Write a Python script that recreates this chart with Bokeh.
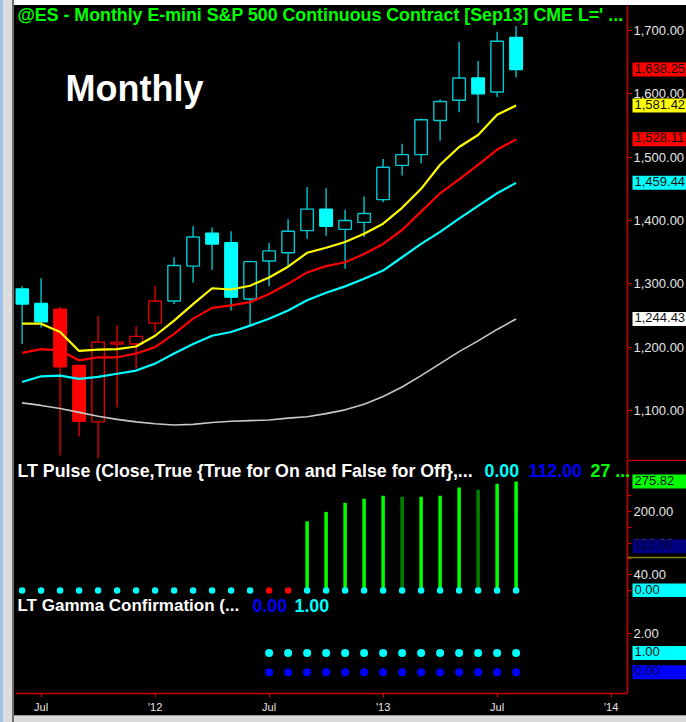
from bokeh.plotting import figure
from bokeh.models import (Range1d, FixedTicker, NumeralTickFormatter, Label, Div,
                          ColumnDataSource, BoxAnnotation)
from bokeh.layouts import row, column
from bokeh.embed import file_html
from bokeh.resources import INLINE

FONT = "Liberation Sans"

# ---------------- data ----------------
months = ["2011-06", "2011-07", "2011-08", "2011-09", "2011-10", "2011-11", "2011-12",
          "2012-01", "2012-02", "2012-03", "2012-04", "2012-05", "2012-06", "2012-07",
          "2012-08", "2012-09", "2012-10", "2012-11", "2012-12", "2013-01", "2013-02",
          "2013-03", "2013-04", "2013-05", "2013-06", "2013-07", "2013-08"]
opens = [1292, 1269, 1260, 1171, 1082, 1205, 1205, 1238, 1273, 1328, 1380, 1365, 1276, 1336,
         1349, 1384, 1418, 1386, 1397, 1433, 1487, 1504, 1558, 1590, 1625, 1603, 1689]
highs = [1296, 1309, 1264, 1172, 1249, 1234, 1233, 1296, 1342, 1391, 1389, 1383, 1337, 1365,
         1402, 1453, 1451, 1417, 1438, 1497, 1521, 1561, 1591, 1682, 1652, 1698, 1707]
lows = [1205, 1231, 1029, 1059, 1025, 1105, 1166, 1224, 1268, 1302, 1322, 1258, 1234, 1296,
        1326, 1371, 1376, 1324, 1374, 1429, 1471, 1490, 1526, 1571, 1554, 1595, 1626]
closes = [1268, 1240, 1169, 1083, 1208, 1208, 1217, 1273, 1329, 1374, 1363, 1279, 1335, 1352,
          1383, 1418, 1391, 1400, 1411, 1484, 1504, 1559, 1588, 1625, 1600, 1683, 1638.25]
candle_side = ["cyan", "cyan", "red", "red", "red", "red", "red", "red"] + ["cyan"] * 19

ma_yellow = [1237, 1237, 1224, 1194, 1196, 1197, 1201, 1218, 1242, 1268, 1293, 1291, 1297, 1310,
             1327, 1349, 1357, 1366, 1379, 1395, 1420, 1450, 1488, 1516, 1535, 1567, 1581.42]
ma_red = [1191, 1197, 1195, 1179, 1184, 1184, 1190, 1200, 1221, 1245, 1262, 1266, 1271, 1284,
          1300, 1318, 1328, 1334, 1347, 1363, 1385, 1414, 1443, 1465, 1488, 1512, 1528.11]
ma_cyan = [1145, 1154, 1155, 1150, 1153, 1158, 1163, 1174, 1190, 1205, 1218, 1224, 1234, 1245,
           1258, 1274, 1286, 1296, 1308, 1321, 1342, 1363, 1382, 1403, 1423, 1443, 1459.44]
ma_white = [1112, 1108, 1103, 1097, 1091, 1086, 1082, 1079, 1077, 1078, 1081, 1083, 1084, 1085,
            1088, 1090, 1095, 1101, 1110, 1122, 1137, 1155, 1174, 1193, 1210, 1228, 1244.43]

pulse = [0] * 15 + [175, 199, 222, 232, 240, 237, 237, 240, 261, 255, 270, 275.82]
pulse_bar_shade = ["bright"] * 20 + ["dark"] + ["bright"] * 3 + ["dark"] + ["bright"] * 2
pulse_dot_state = ["on"] * 13 + ["off", "off"] + ["on"] * 12
pulse_level = 112

gamma_start = 13
gamma_on = [1] * 14
gamma_off = [0] * 14

x_tick_pos = [1, 7, 13, 19, 25, 31]
x_tick_labels = ["Jul", "'12", "Jul", "'13", "Jul", "'14"]
price_ticks = [1100, 1200, 1300, 1400, 1500, 1600, 1700]
pulse_ticks = [40, 120, 200]
pulse_minor = [0, 80, 160, 240]
gamma_ticks = [2]

# ---------------- layout helpers ----------------
x = list(range(len(months)))
X_START, X_END = -0.347, 34.968      # frame spans the whole black area
AXIS_X = 31.863                       # where the price scale sits (red line)
xr = Range1d(X_START, X_END)
W = 672
H1, H2, H3F = 454, 138, 96
SCALE_FONT = 13


def make_fig(height, ys, ye, with_x=False):
    p = figure(width=W, height=height, x_range=xr, y_range=Range1d(ys, ye),
               output_backend="svg", toolbar_location=None,
               x_axis_location="below" if with_x else None, y_axis_location="right",
               min_border_left=1, min_border_right=0, min_border_top=0,
               min_border_bottom=22 if with_x else 0,
               background_fill_color="black", border_fill_color="black",
               outline_line_color=None)
    p.grid.grid_line_color = None
    ax = p.yaxis[0]
    ax.fixed_location = AXIS_X
    ax.axis_line_color = "#C80000"
    ax.axis_line_width = 1.6
    ax.major_tick_line_color = "#E00000"
    ax.minor_tick_line_color = "#E00000"
    ax.major_tick_out = 4
    ax.major_tick_in = 0
    ax.minor_tick_out = 4
    ax.minor_tick_in = 0
    ax.major_label_standoff = 2
    ax.major_label_text_color = "#E6E6E6"
    ax.major_label_text_font = FONT
    ax.major_label_text_font_size = f"{SCALE_FONT}px"
    ax.formatter = NumeralTickFormatter(format="0,0.00")
    return p


def txt(p, xs, ys, text, color, size="17.8px", bold=True):
    p.add_layout(Label(x=xs, y=ys, x_units="screen", y_units="screen", text=text,
                       text_color=color, text_font=FONT, text_font_size=size,
                       text_font_style="bold" if bold else "normal",
                       text_baseline="middle", text_align="left"))


def text_width(s, size=SCALE_FONT):
    return sum((0.556 if ch.isdigit() else 0.278) * size for ch in s)


def val_label(p, value, text, bg, fg="#101010"):
    right_pad = max(0, int(round(685 - 632 - text_width(text))))
    p.add_layout(Label(x=617, y=value, x_units="screen", y_units="data", text=text,
                       text_color=fg, text_font=FONT, text_font_size=f"{SCALE_FONT}px",
                       text_baseline="middle", text_align="left",
                       background_fill_color=bg, padding=(2, right_pad, 1, 4)))


def scale_strip(p, from_bottom, thickness, color):
    p.add_layout(BoxAnnotation(left=AXIS_X, right=X_END,
                               bottom=from_bottom, top=from_bottom + thickness,
                               bottom_units="screen", top_units="screen",
                               fill_color=color, fill_alpha=1.0, line_color=None))


CYAN_LINE, CYAN_FILL = "#00C8D0", "#00FFFF"
RED_LINE, RED_FILL = "#E00000", "#FF0000"

# ---------------- price pane ----------------
p1 = make_fig(H1, 1022.6, 1739.5)
p1.yaxis.ticker = FixedTicker(ticks=price_ticks)
p1.yaxis.minor_tick_line_color = None

line_col = [CYAN_LINE if s == "cyan" else RED_LINE for s in candle_side]
fill_col = []
for s, o, c in zip(candle_side, opens, closes):
    if c < o:
        fill_col.append(CYAN_FILL if s == "cyan" else RED_FILL)
    else:
        fill_col.append("black")
body_line = [fc if fc != "black" else lc for fc, lc in zip(fill_col, line_col)]
src = ColumnDataSource(dict(x=x, o=opens, h=highs, l=lows, c=closes,
                            top=[max(a, b) for a, b in zip(opens, closes)],
                            bot=[min(a, b) for a, b in zip(opens, closes)],
                            lc=line_col, fc=fill_col, bl=body_line))
p1.segment(x0="x", y0="h", x1="x", y1="l", line_color="lc", line_width=1.4, source=src)
p1.vbar(x="x", width=0.66, top="top", bottom="bot", fill_color="fc", line_color="bl",
        line_width=1.4, source=src)

p1.line(x, ma_white, line_color="#C8C8C8", line_width=1.6)
p1.line(x, ma_cyan, line_color="#00FFFF", line_width=2.2)
p1.line(x, ma_red, line_color="#FF0000", line_width=2.2)
p1.line(x, ma_yellow, line_color="#FFFF00", line_width=2.2)

txt(p1, 2, H1 - 9, "@ES - Monthly  E-mini S&P 500 Continuous Contract [Sep13]  CME  L=' ...", "#00FF00")
txt(p1, 50, H1 - 83, "Monthly", "white", size="36px")

val_label(p1, closes[-1], "1,638.25", "#FF0000")
val_label(p1, ma_yellow[-1], "1,581.42", "#FFFF00")
val_label(p1, ma_red[-1], "1,528.11", "#FF0000")
val_label(p1, ma_cyan[-1], "1,459.44", "#00FFFF")
val_label(p1, ma_white[-1], "1,244.43", "#FFFFFF")

# ---------------- LT Pulse pane ----------------
p2 = make_fig(H2, -17.7, 331.6)
p2.yaxis.ticker = FixedTicker(ticks=pulse_ticks, minor_ticks=pulse_minor)
bx = [i for i, v in zip(x, pulse) if v > 0]
bv = [v for v in pulse if v > 0]
bc = ["#00FF00" if s == "bright" else "#008000" for s, v in zip(pulse_bar_shade, pulse) if v > 0]
p2.segment(x0=bx, y0=[0] * len(bx), x1=bx, y1=bv, line_color=bc, line_width=3.5)
dot_col = ["#00FFFF" if s == "on" else "#FF0000" for s in pulse_dot_state]
p2.scatter(x, [0] * len(x), marker="circle", size=6.5, fill_color=dot_col, line_color=None)

scale_strip(p2, H2 - 1.5, 1.5, "#C80000")      # pane separator on the price scale
scale_strip(p2, 39.2, 1.5, "#808000")

txt(p2, 2, H2 - 11, "LT Pulse (Close,True {True for On and False for Off},...", "white")
txt(p2, 469, H2 - 11, "0.00", "#00FFFF")
txt(p2, 513, H2 - 11, "112.00", "#0000FF")
txt(p2, 575, H2 - 11, "27 ...", "#00FF00")

val_label(p2, pulse[-1], "275.82", "#00FF00")
val_label(p2, pulse_level, "112.00", "#000080", fg="#000030")
val_label(p2, 0, "0.00", "#00FFFF")

# ---------------- LT Gamma pane ----------------
p3 = make_fig(H3F + 22, -1.11, 3.89, with_x=True)
p3.yaxis.ticker = FixedTicker(ticks=gamma_ticks)
gx = x[gamma_start:]
p3.scatter(gx, gamma_on, marker="circle", size=8, fill_color="#00FFFF", line_color=None)
p3.scatter(gx, gamma_off, marker="circle", size=8, fill_color="#0000FF", line_color=None)

txt(p3, 2, H3F - 8, "LT Gamma Confirmation (...", "white", size="17px")
txt(p3, 237, H3F - 8, "0.00", "#0000FF")
txt(p3, 279, H3F - 8, "1.00", "#00FFFF")

val_label(p3, 1, "1.00", "#00FFFF")
val_label(p3, 0, "0.00", "#0000FF", fg="#000040")

xa = p3.xaxis[0]
xa.bounds = (X_START, AXIS_X)
xa.ticker = FixedTicker(ticks=x_tick_pos)
xa.major_label_overrides = {pos: lab for pos, lab in zip(x_tick_pos, x_tick_labels)}
xa.axis_line_color = "#C80000"
xa.axis_line_width = 1.6
xa.major_tick_line_color = "#E00000"
xa.major_tick_out = 4
xa.major_tick_in = 0
xa.minor_tick_line_color = None
xa.major_label_standoff = 3
xa.major_label_text_color = "#E6E6E6"
xa.major_label_text_font = FONT
xa.major_label_text_font_size = "11px"

top_band = Div(text="", width=W, height=5, margin=0, styles={"background-color": "white"})
bottom_band = Div(text="", width=W, height=7, margin=0,
                  styles={"background-color": "#DADADA", "border-top": "1px solid #9A9A9A"})
frame_strip = Div(text="", width=14, height=722, margin=0,
                  styles={"background": "linear-gradient(to right, #9EC2E6 0px, #9EC2E6 3px, "
                                        "#DCDCDC 3px, #DCDCDC 12px, #6E6E6E 12px)"})
charts = column(top_band, p1, p2, p3, bottom_band, styles={"background-color": "black"})
layout = row(frame_strip, charts)

open("out.html", "w").write(file_html(layout, INLINE))
